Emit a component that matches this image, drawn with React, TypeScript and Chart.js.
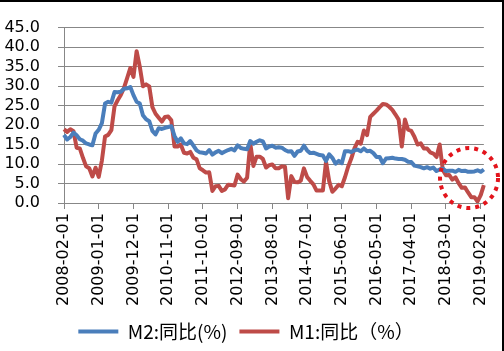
import React, { useEffect, useRef } from "react";
import { Chart, registerables } from "chart.js";

Chart.register(...registerables);

// Monthly series, 2008-02 .. 2019-03
const START_YEAR = 2008;
const START_MONTH = 2;

const M2 = [
  17.48, 16.29, 16.94, 18.07, 17.37, 16.35, 16.0, 15.29, 15.02, 14.8, 17.82,
  18.79, 20.48, 25.51, 25.95, 25.74, 28.46, 28.42, 28.53, 29.31, 29.42, 29.74, 27.68,
  25.98, 25.52, 22.5, 21.48, 21.0, 18.5, 17.6, 19.2, 19.0, 19.3, 19.5, 19.7,
  17.2, 15.7, 16.6, 15.3, 15.1, 15.9, 14.7, 13.5, 13.0, 12.9, 12.7, 13.6,
  12.4, 13.0, 13.4, 12.8, 13.2, 13.6, 13.9, 13.5, 14.8, 14.1, 13.9, 13.8,
  15.9, 15.2, 15.7, 16.1, 15.8, 14.0, 14.5, 14.7, 14.2, 14.3, 14.2, 13.6,
  13.2, 13.3, 12.1, 13.2, 13.4, 14.7, 13.5, 12.8, 12.9, 12.6, 12.3, 12.2,
  10.8, 12.5, 11.6, 10.1, 10.8, 10.2, 13.3, 13.3, 13.1, 13.5, 13.7, 13.3,
  14.0, 13.3, 13.4, 12.8, 11.8, 11.8, 10.2, 11.4, 11.5, 11.6, 11.4, 11.3,
  11.3, 11.1, 10.6, 10.5, 9.6, 9.4, 9.2, 8.9, 9.2, 8.8, 9.1, 8.2,
  8.6, 8.8, 8.2, 8.3, 8.3, 8.0, 8.5, 8.2, 8.3, 8.0, 8.0, 8.1,
  8.4, 8.0, 8.6,
];

const M1 = [
  18.94, 18.25, 18.94, 18.43, 14.18, 14.0, 11.6, 9.4, 8.9, 6.8, 9.06,
  6.68, 10.9, 17.04, 17.48, 18.69, 24.79, 26.37, 27.72, 29.51, 32.03, 34.63, 32.35,
  38.96, 34.99, 29.94, 30.45, 29.93, 24.6, 22.9, 21.9, 20.9, 22.1, 22.2, 21.2,
  14.5, 14.5, 15.0, 12.9, 12.7, 13.1, 11.6, 11.2, 8.9, 8.4, 7.8, 7.9,
  3.1, 4.3, 4.4, 3.1, 3.5, 4.7, 4.6, 4.5, 7.3, 6.1, 5.5, 6.5,
  15.3, 9.5, 11.9, 11.9, 11.3, 9.1, 9.7, 9.9, 8.9, 8.9, 9.4, 9.3,
  1.2, 6.9, 5.4, 5.3, 5.7, 8.9, 6.7, 5.7, 4.8, 3.2, 3.2, 3.2,
  10.6, 5.6, 2.9, 3.7, 4.7, 4.3, 6.6, 9.3, 11.4, 14.0, 15.7, 15.2,
  18.6, 17.4, 22.1, 22.9, 23.7, 24.6, 25.4, 25.3, 24.7, 23.9, 22.7, 21.4,
  14.5, 21.4, 18.8, 18.5, 17.0, 15.0, 15.3, 14.0, 14.0, 13.0, 12.7, 11.8,
  15.0, 8.5, 7.1, 7.2, 6.0, 6.6, 5.1, 3.9, 4.0, 2.7, 1.5, 1.5,
  0.4, 2.0, 4.6,
];

const SERIES_NAMES = ["M2:同比(%)", "M1:同比（%）"];
const LABEL_EVERY = 11;
const Y_MIN = 0;
const Y_MAX = 45;
const Y_STEP = 5;

// highlight circle (in data units: category index, value)
const HIGHLIGHT_INDEX = 128.3;
const HIGHLIGHT_VALUE = 6.4;

const CATEGORIES: string[] = [];
for (let i = 0; i < M2.length; i++) {
  const m = START_MONTH - 1 + i;
  const y = START_YEAR + Math.floor(m / 12);
  const mm = (m % 12) + 1;
  CATEGORIES.push(`${y}-${String(mm).padStart(2, "0")}-01`);
}

const FONT = "'DejaVu Sans', sans-serif";
const GRID = "#878787";

const circlePlugin = {
  id: "highlightCircle",
  afterDatasetsDraw(chart: any) {
    const { ctx, scales } = chart;
    const cx = scales.x.getPixelForValue(HIGHLIGHT_INDEX);
    const cy = scales.y.getPixelForValue(HIGHLIGHT_VALUE);
    ctx.save();
    ctx.strokeStyle = "#e3141c";
    ctx.lineWidth = 4;
    ctx.setLineDash([4, 5]);
    ctx.beginPath();
    ctx.ellipse(cx, cy, 29, 30, 0, 0, Math.PI * 2);
    ctx.stroke();
    ctx.restore();
  },
};

export default function App() {
  const ref = useRef<HTMLCanvasElement | null>(null);

  useEffect(() => {
    if (!ref.current) return;
    const chart = new Chart(ref.current, {
      type: "line",
      data: {
        labels: CATEGORIES,
        datasets: [
          {
            label: SERIES_NAMES[0],
            data: M2,
            borderColor: "#4a7ebb",
            backgroundColor: "#4a7ebb",
            borderWidth: 4,
            pointRadius: 0,
            tension: 0,
            borderJoinStyle: "round",
          },
          {
            label: SERIES_NAMES[1],
            data: M1,
            borderColor: "#be4b48",
            backgroundColor: "#be4b48",
            borderWidth: 4,
            pointRadius: 0,
            tension: 0,
            borderJoinStyle: "round",
          },
        ],
      },
      options: {
        responsive: false,
        animation: false,
        layout: { padding: { left: 0, right: 12, top: 10.4, bottom: 0 } },
        plugins: {
          tooltip: { enabled: false },
          legend: {
            position: "bottom",
            labels: {
              usePointStyle: true,
              pointStyle: "line",
              pointStyleWidth: 40,
              boxHeight: 4,
              padding: 12,
              color: "#000",
              font: { family: "'Noto Sans CJK SC', sans-serif", size: 19 },
            },
          },
        },
        scales: {
          x: {
            type: "category",
            offset: false,
            afterBuildTicks: (scale: any) => {
              scale.ticks = scale.ticks.filter((t: any) => t.value % LABEL_EVERY === 0);
            },
            ticks: {
              autoSkip: false,
              maxRotation: 90,
              minRotation: 90,
              padding: 4,
              color: "#000",
              font: { family: FONT, size: 16 },
            },
            grid: {
              drawOnChartArea: false,
              drawTicks: true,
              tickLength: 6,
              color: GRID,
              offset: false,
            },
            border: { color: GRID, width: 1 },
          },
          y: {
            min: Y_MIN,
            max: Y_MAX,
            afterFit: (scale: any) => {
              scale.width = 64;
            },
            ticks: {
              stepSize: Y_STEP,
              autoSkip: false,
              padding: 18,
              color: "#000",
              font: { family: FONT, size: 16 },
              callback: (v: any) => Number(v).toFixed(1),
            },
            grid: { color: GRID, tickLength: 6, lineWidth: 1 },
            border: { color: GRID, width: 1 },
          },
        },
      },
      plugins: [circlePlugin],
    });
    return () => chart.destroy();
  }, []);

  return (
    <div style={{ position: "fixed", left: 0, top: 0, width: 504, height: 351, background: "#fff" }}>
      <canvas ref={ref} width={504} height={351} style={{ display: "block" }} />
      <div style={{ position: "absolute", left: 0, top: 0, width: 504, height: 2, background: "#000" }} />
      <div style={{ position: "absolute", right: 0, top: 0, width: 2, height: 351, background: "#000" }} />
    </div>
  );
}
